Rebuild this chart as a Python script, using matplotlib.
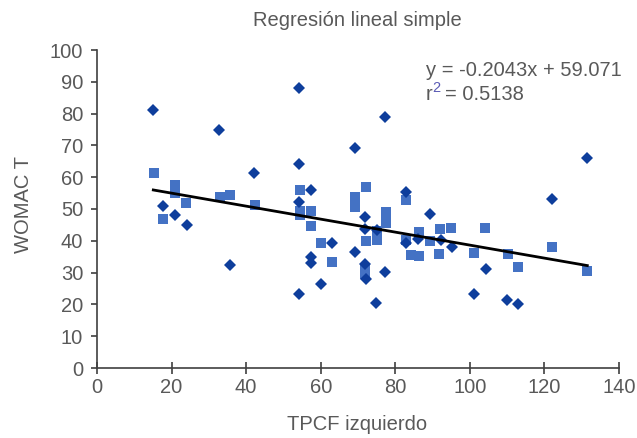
import numpy as np
import matplotlib
matplotlib.use("Agg")
import matplotlib.pyplot as plt

# Serie 1 (rombos oscuros)
x_rombos = [15.1, 32.8, 42, 17.8, 21, 24.2, 35.8, 54.2, 54.2, 57.3, 54.2, 69.2, 77.2,
            82.9, 89.2, 72, 72, 75, 63.1, 57.3, 57.3, 60, 54.2, 69.2, 71.8, 72.1, 77.2,
            74.8, 82.9, 86, 92.2, 95.1, 104.3, 101.2, 110, 113, 122, 131.3]
y_rombos = [81, 75, 61.2, 51, 48.1, 45.1, 32.3, 88, 64.1, 56, 52.3, 69.1, 79,
            55.2, 48.3, 47.6, 43.6, 43.5, 39.2, 35, 32.9, 26.4, 23.3, 36.4, 32.6, 28, 30.2,
            20.4, 39.2, 40.5, 40.2, 38, 31.2, 23.2, 21.4, 20.2, 53.1, 66]

# Serie 2 (cuadrados claros)
x_cuad = [15.4, 20.8, 20.8, 24, 17.8, 32.9, 35.8, 42.3, 54.4, 54.4, 54.4, 57.3, 57.3,
          60, 63, 69.2, 69.2, 72.1, 72.1, 75.1, 75.1, 72, 72, 77.5, 77.5, 77.5, 82.9,
          83, 84.1, 86.4, 86.4, 89.3, 92, 91.7, 95, 101.2, 104.1, 110.1, 113, 122.1, 131.5]
y_cuad = [61.2, 57.4, 55, 51.8, 46.8, 53.9, 54.4, 51.3, 56, 49.5, 48, 49.4, 44.6,
          39.2, 33.2, 53.7, 50.6, 56.8, 39.9, 43, 40.2, 31.2, 29.6, 48.9, 47, 45.5, 52.8,
          40.4, 35.5, 35.2, 42.9, 39.9, 43.6, 36, 43.9, 36.3, 43.9, 35.7, 31.7, 38.1, 30.4]

# Recta de regresion
pendiente = -0.2043
intercepto = 59.071

gris = "#595959"
fs = 14.5
plt.rcParams['font.family'] = ['Liberation Sans', 'DejaVu Sans']

W, H = 637, 438
fig = plt.figure(figsize=(W / 100, H / 100), dpi=100)
ax = fig.add_axes([97 / W, 70 / H, 522 / W, 318 / H])

ax.plot(x_cuad, y_cuad, linestyle='none', marker='s', markersize=6.5,
        color='#4472C4', markeredgewidth=0)
ax.plot(x_rombos, y_rombos, linestyle='none', marker='D', markersize=6.2,
        color='#0E3E9C', markeredgewidth=0)

x_todos = np.array(x_rombos + x_cuad)
xr = np.array([x_todos.min(), x_todos.max()])
ax.plot(xr, pendiente * xr + intercepto, color='black', linewidth=2)

ax.set_xlim(0, 140)
ax.set_ylim(0, 100)
ax.set_xticks(range(0, 141, 20))
ax.set_yticks(range(0, 101, 10))

for s in ['top', 'right']:
    ax.spines[s].set_visible(False)
for s in ['left', 'bottom']:
    ax.spines[s].set_color('#404040')
    ax.spines[s].set_linewidth(1.2)

ax.tick_params(axis='x', direction='inout', length=9, width=1.2, color='#404040',
               labelsize=fs, labelcolor=gris, pad=3)
ax.tick_params(axis='y', direction='out', length=4, width=1.2, color='#404040',
               labelsize=fs, labelcolor=gris, pad=6)

fig.text(357 / W, 1 - 425 / H, 'TPCF izquierdo', fontsize=fs, color=gris,
         ha='center', va='center')
fig.text(24 / W, 1 - 205 / H, 'WOMAC T', fontsize=fs, color=gris,
         ha='center', va='center', rotation=90)
fig.text(357 / W, 1 - 20 / H, 'Regresión lineal simple', fontsize=fs, color=gris,
         ha='center', va='center')

# Ecuacion de la recta
fig.text(426 / W, 1 - 70 / H, 'y = -0.2043x + 59.071', fontsize=fs, color=gris,
         ha='left', va='center')
fig.text(426 / W, 1 - 95 / H, 'r', fontsize=fs, color=gris, ha='left', va='center')
fig.text(432 / W, 1 - 88 / H, '2', fontsize=10.5, color='#5B5BB5', ha='left', va='center')
fig.text(445 / W, 1 - 95 / H, '= 0.5138', fontsize=fs, color=gris, ha='left', va='center')

fig.savefig('out.png', dpi=100)
